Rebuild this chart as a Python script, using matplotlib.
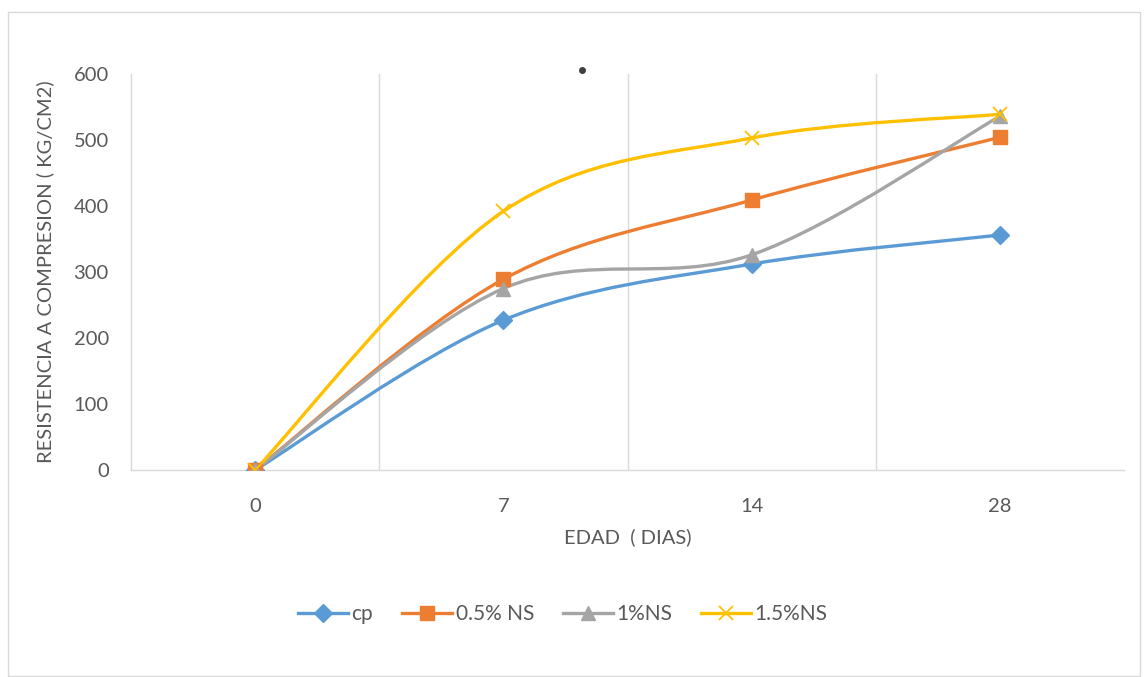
import numpy as np
import matplotlib
matplotlib.use("Agg")
import matplotlib.pyplot as plt
from matplotlib.patches import Rectangle
from matplotlib.path import Path
from matplotlib.patches import PathPatch
from matplotlib.lines import Line2D

plt.rcParams['font.family'] = ['Lato', 'DejaVu Sans']

# Data
edades = ["0", "7", "14", "28"]
cp = [0, 227, 312, 356]
ns_05 = [0, 289, 409, 504]
ns_1 = [0, 275, 326, 536]
ns_15 = [0, 392, 503, 539]

series = [
    ("cp", cp, "#5B9BD5", "D", 9),
    ("0.5% NS", ns_05, "#ED7D31", "s", 10),
    ("1%NS", ns_1, "#A5A5A5", "^", 10),
    ("1.5%NS", ns_15, "#FFC000", "x", 10),
]

W, H = 1147, 677
fig = plt.figure(figsize=(W / 100, H / 100), dpi=100)

# chart-area frame
fig.patches.append(Rectangle((8 / W, 1 - 676 / H), (1140 - 8) / W, (676 - 12) / H,
                             transform=fig.transFigure, fill=False,
                             edgecolor="#D9D9D9", linewidth=1))

ax = fig.add_axes([131 / W, 1 - 470 / H, (1124 - 131) / W, (470 - 74) / H])
x = np.arange(len(edades))


def smooth_path(xs, ys):
    """Bezier curve through the points (Excel-style smoothing)."""
    pts = np.column_stack([xs, ys]).astype(float)
    n = len(pts)
    verts = [pts[0]]
    codes = [Path.MOVETO]
    for i in range(n - 1):
        p0 = pts[i - 1] if i > 0 else pts[i]
        p1 = pts[i]
        p2 = pts[i + 1]
        p3 = pts[i + 2] if i + 2 < n else pts[i + 1]
        c1 = p1 + (p2 - p0) / 6.0
        c2 = p2 - (p3 - p1) / 6.0
        verts += [c1, c2, p2]
        codes += [Path.CURVE4] * 3
    return Path(verts, codes)


handles = []
for name, vals, color, mk, ms in series:
    patch = PathPatch(smooth_path(x, vals), facecolor="none", edgecolor=color,
                      linewidth=2.4, capstyle="round", zorder=3)
    ax.add_patch(patch)
    if mk == "x":
        ax.plot(x, vals, linestyle="none", marker=mk, markersize=ms,
                markeredgecolor=color, markeredgewidth=1.3, zorder=4)
    else:
        ax.plot(x, vals, linestyle="none", marker=mk, markersize=ms,
                markerfacecolor=color, markeredgecolor=color, zorder=4)
    handles.append(Line2D([], [], color=color, linewidth=2.4, marker=mk,
                          markersize=ms, markerfacecolor=color,
                          markeredgecolor=color,
                          markeredgewidth=1.3 if mk == "x" else 1.0))

ax.set_xlim(-0.5, 3.5)
ax.set_ylim(0, 600)
ax.set_yticks(np.arange(0, 601, 100))
ax.set_xticks(x)
ax.set_xticklabels(edades)
for gx in [0.5, 1.5, 2.5]:
    ax.axvline(gx, color="#D9D9D9", linewidth=1, zorder=1)

for s in ["top", "right"]:
    ax.spines[s].set_visible(False)
for s in ["left", "bottom"]:
    ax.spines[s].set_color("#D9D9D9")
    ax.spines[s].set_linewidth(1)
ax.tick_params(length=0, labelsize=14.5, labelcolor="#595959")
ax.tick_params(axis="y", pad=16)
ax.tick_params(axis="x", pad=20)

ax.set_xlabel("EDAD  ( DIAS)", fontsize=14.5, color="#595959", labelpad=10)
ax.set_ylabel("RESISTENCIA A COMPRESION ( KG/CM2)", fontsize=14.5,
              color="#595959", labelpad=14)

fig.legend(handles, [s[0] for s in series], loc="center",
           bbox_to_anchor=(563 / W, 1 - 614 / H), ncol=4, frameon=False,
           fontsize=15, labelcolor="#595959", handlelength=2.4,
           handletextpad=0.15, columnspacing=1.4)

# small dot above the plot
fig.add_artist(Line2D([582 / W], [1 - 70 / H], marker="o", markersize=4,
                      color="#404040", transform=fig.transFigure))

fig.savefig("out.png", dpi=100)
